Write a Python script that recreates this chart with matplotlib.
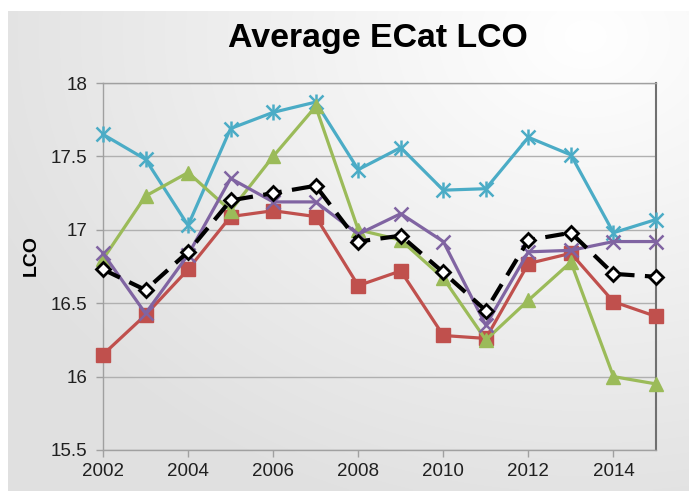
import numpy as np
import matplotlib
matplotlib.use("Agg")
import matplotlib.pyplot as plt

years = [2002, 2003, 2004, 2005, 2006, 2007, 2008, 2009, 2010, 2011, 2012, 2013, 2014, 2015]
cyan_vals = [17.65, 17.48, 17.03, 17.69, 17.80, 17.87, 17.41, 17.56, 17.27, 17.28, 17.63, 17.51, 16.98, 17.07]
green_vals = [16.80, 17.23, 17.39, 17.13, 17.50, 17.84, 17.00, 16.93, 16.67, 16.25, 16.52, 16.78, 16.00, 15.95]
red_vals = [16.15, 16.42, 16.73, 17.09, 17.13, 17.09, 16.62, 16.72, 16.28, 16.26, 16.77, 16.84, 16.51, 16.41]
purple_vals = [16.84, 16.43, 16.83, 17.35, 17.19, 17.19, 16.97, 17.11, 16.92, 16.35, 16.85, 16.86, 16.92, 16.92]
black_vals = [16.73, 16.59, 16.85, 17.20, 17.25, 17.30, 16.92, 16.96, 16.71, 16.45, 16.93, 16.98, 16.70, 16.68]
y_ticks = [15.5, 16, 16.5, 17, 17.5, 18]
y_tick_labels = ["15.5", "16", "16.5", "17", "17.5", "18"]
x_ticks = [2002, 2004, 2006, 2008, 2010, 2012, 2014]
title = "Average ECat LCO"
ylabel = "LCO"

plt.rcParams['font.family'] = ['Liberation Sans', 'DejaVu Sans']

W, H = 689, 491
fig = plt.figure(figsize=(W / 100, H / 100), dpi=100)
fig.patch.set_facecolor("white")

# background gradient panel
bg = fig.add_axes([8 / W, 0, 1 - 8 / W, 1 - 11 / H], zorder=0)
bg.set_axis_off()
nx, ny = 200, 150
xx, yy = np.meshgrid(np.linspace(0, 1, nx), np.linspace(0, 1, ny))
d = np.sqrt(((xx - 0.85) / 1.0) ** 2 + ((yy - 0.05) / 1.1) ** 2)
d = np.clip(d / 0.95, 0, 1)
val = 1.0 - 0.12 * d
img = np.dstack([val, val, val])
bg.imshow(img, aspect="auto", extent=[0, 1, 1, 0], interpolation="bilinear")
bg.set_xlim(0, 1)
bg.set_ylim(1, 0)

ax = fig.add_axes([103 / W, 1 - 450 / H, (656 - 103) / W, (450 - 83) / H], zorder=1)
ax.patch.set_alpha(0)

lw = 2.3
kw = dict(clip_on=False)
ax.plot(years, cyan_vals, color="#4bacc6", lw=lw, marker="x", ms=10, mew=1.8, zorder=3, **kw)
ax.plot(years, cyan_vals, color="#4bacc6", lw=0, marker="|", ms=12, mew=1.8, zorder=3, **kw)
ax.plot(years, red_vals, color="#c0504d", lw=lw, marker="s", ms=10, zorder=4, **kw)
ax.plot(years, green_vals, color="#9bbb59", lw=lw, marker="^", ms=10, zorder=5, **kw)
ax.plot(years, purple_vals, color="#8064a2", lw=lw, marker="x", ms=10, mew=1.8, zorder=6, **kw)
ax.plot(years, black_vals, color="black", lw=3, ls=(0, (4.5, 2.5)), marker="D", ms=7,
        mfc="white", mec="black", mew=2, zorder=7, **kw)

ax.set_xlim(2002, 2015)
ax.set_ylim(15.5, 18)
ax.set_yticks(y_ticks)
ax.set_yticklabels(y_tick_labels)
ax.set_xticks(x_ticks)
ax.set_xticklabels([str(x) for x in x_ticks])
ax.tick_params(axis="both", labelsize=13.5, colors="#202020", length=5, width=1, direction="out")
ax.tick_params(axis="x", color="#a0a0a0", pad=4)
ax.tick_params(axis="y", color="#a0a0a0", pad=6)
ax.grid(axis="y", color="#b0b0b0", lw=1)
ax.set_axisbelow(True)
for s in ["left", "bottom", "top"]:
    ax.spines[s].set_color("#a0a0a0")
    ax.spines[s].set_linewidth(1)
ax.spines["right"].set_color("#707070")
ax.spines["right"].set_linewidth(1.5)

fig.text(378 / W, 1 - 38 / H, title, ha="center", va="center", fontsize=24.4, fontweight="bold")
fig.text(31 / W, 1 - 255 / H, ylabel, ha="center", va="center", rotation=90, fontsize=14, fontweight="bold")

fig.savefig("out.png", dpi=100)
